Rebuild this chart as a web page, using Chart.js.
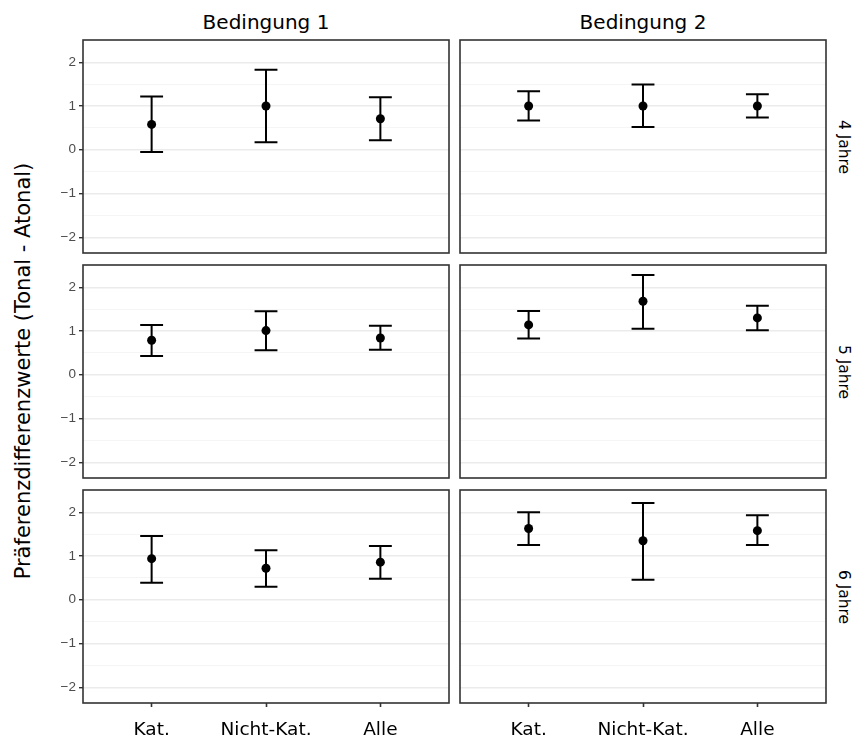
<!DOCTYPE html>
<html lang="de">
<head>
<meta charset="utf-8">
<title>Präferenzdifferenzwerte</title>
<script src="https://cdn.jsdelivr.net/npm/chart.js@4.4.1/dist/chart.umd.min.js"></script>
<style>
  body { margin: 0; background: #fff; }
  #wrap { position: relative; width: 852px; height: 740px; overflow: hidden; font-family: "DejaVu Sans", sans-serif; color: #000; }
  .panel { position: absolute; }
  .strip-top { position: absolute; top: 10px; font-size: 20px; text-align: center; width: 366px; line-height: 24px; }
  .strip-right { position: absolute; left: 844px; font-size: 15.5px; white-space: nowrap; transform: translate(-50%, -50%) rotate(90deg); }
  #ytitle { position: absolute; left: 23px; top: 371px; font-size: 21px; white-space: nowrap; transform: translate(-50%, -50%) rotate(-90deg); }
</style>
</head>
<body>
<div id="wrap">
  <div id="ytitle">Präferenzdifferenzwerte (Tonal - Atonal)</div>
</div>
<script>
// Kategorien, Facetten und Achsenbeschriftung
const categories = ['Kat.', 'Nicht-Kat.', 'Alle'];
const conditions = ['Bedingung 1', 'Bedingung 2'];
const ageGroups = ['4 Jahre', '5 Jahre', '6 Jahre'];
const yTicks = [-2, -1, 0, 1, 2];
const yGrid = [-2, -1.5, -1, -0.5, 0, 0.5, 1, 1.5, 2];

// 4 Jahre
const mean4B1 = [0.58, 1.00, 0.71];
const lower4B1 = [-0.05, 0.17, 0.22];
const upper4B1 = [1.22, 1.83, 1.20];
const mean4B2 = [1.00, 1.00, 1.00];
const lower4B2 = [0.67, 0.52, 0.74];
const upper4B2 = [1.34, 1.49, 1.27];

// 5 Jahre
const mean5B1 = [0.79, 1.01, 0.84];
const lower5B1 = [0.43, 0.56, 0.57];
const upper5B1 = [1.14, 1.45, 1.12];
const mean5B2 = [1.14, 1.68, 1.30];
const lower5B2 = [0.83, 1.05, 1.02];
const upper5B2 = [1.46, 2.28, 1.58];

// 6 Jahre
const mean6B1 = [0.94, 0.72, 0.86];
const lower6B1 = [0.39, 0.30, 0.48];
const upper6B1 = [1.46, 1.13, 1.23];
const mean6B2 = [1.63, 1.35, 1.58];
const lower6B2 = [1.25, 0.46, 1.25];
const upper6B2 = [2.00, 2.21, 1.93];

const panels = [
    [[mean4B1, lower4B1, upper4B1], [mean4B2, lower4B2, upper4B2]],
    [[mean5B1, lower5B1, upper5B1], [mean5B2, lower5B2, upper5B2]],
    [[mean6B1, lower6B1, upper6B1], [mean6B2, lower6B2, upper6B2]]
];

// Layout der Facetten (Pixel)
const panelTop = [40, 265, 490];
const panelH = 213;
const panelLeft = [83, 460];
const panelW = 366;
const yAxisW = 43;
const xAxisH = 40;

const isInt = (v) => Math.abs(v - Math.round(v)) < 1e-9;

// Fehlerbalken und Panelrahmen
const errorBarPlugin = {
    id: 'errorBars',
    beforeDatasetsDraw(chart) {
        const { ctx, scales: { x, y } } = chart;
        const lo = chart.config.options.plugins.errorBars.lower;
        const hi = chart.config.options.plugins.errorBars.upper;
        const capHalf = (x.getPixelForValue(1.1) - x.getPixelForValue(0.9)) / 2;
        ctx.save();
        ctx.strokeStyle = '#000';
        ctx.lineWidth = 2;
        ctx.lineCap = 'butt';
        lo.forEach((l, i) => {
            const px = x.getPixelForValue(i + 1);
            const yl = y.getPixelForValue(l);
            const yh = y.getPixelForValue(hi[i]);
            ctx.beginPath();
            ctx.moveTo(px, yl); ctx.lineTo(px, yh);
            ctx.moveTo(px - capHalf, yl); ctx.lineTo(px + capHalf, yl);
            ctx.moveTo(px - capHalf, yh); ctx.lineTo(px + capHalf, yh);
            ctx.stroke();
        });
        ctx.restore();
    },
    afterDraw(chart) {
        const { ctx, chartArea: a } = chart;
        ctx.save();
        ctx.strokeStyle = '#333';
        ctx.lineWidth = 1.6;
        ctx.strokeRect(a.left, a.top, a.right - a.left, a.bottom - a.top);
        ctx.restore();
    }
};

const wrap = document.getElementById('wrap');

conditions.forEach((c, col) => {
    const s = document.createElement('div');
    s.className = 'strip-top';
    s.style.left = panelLeft[col] + 'px';
    s.textContent = c;
    wrap.appendChild(s);
});

ageGroups.forEach((g, row) => {
    const s = document.createElement('div');
    s.className = 'strip-right';
    s.style.top = (panelTop[row] + panelH / 2) + 'px';
    s.textContent = g;
    wrap.appendChild(s);
});

panels.forEach((rowData, row) => {
    rowData.forEach(([mean, lower, upper], col) => {
        const isLeft = col === 0;
        const isBottom = row === 2;
        const cLeft = isLeft ? panelLeft[col] - yAxisW : panelLeft[col] - 2;
        const cWidth = (isLeft ? yAxisW : 2) + panelW + 2;
        const cTop = panelTop[row] - 2;
        const cHeight = 2 + panelH + (isBottom ? xAxisH : 2);

        const canvas = document.createElement('canvas');
        canvas.className = 'panel';
        canvas.style.left = cLeft + 'px';
        canvas.style.top = cTop + 'px';
        canvas.width = cWidth;
        canvas.height = cHeight;
        canvas.style.width = cWidth + 'px';
        canvas.style.height = cHeight + 'px';
        wrap.appendChild(canvas);

        new Chart(canvas, {
            type: 'scatter',
            data: {
                datasets: [{
                    data: mean.map((m, i) => ({ x: i + 1, y: m })),
                    backgroundColor: '#000',
                    borderWidth: 0,
                    pointRadius: 4.5
                }]
            },
            options: {
                responsive: false,
                animation: false,
                layout: {
                    autoPadding: false,
                    padding: { top: 2, right: 2, left: isLeft ? 0 : 2, bottom: isBottom ? 0 : 2 }
                },
                plugins: {
                    legend: { display: false },
                    tooltip: { enabled: false },
                    errorBars: { lower: lower, upper: upper }
                },
                scales: {
                    x: {
                        type: 'linear',
                        min: 0.4,
                        max: 3.6,
                        display: isBottom,
                        afterBuildTicks: (s) => { s.ticks = categories.map((_, i) => ({ value: i + 1 })); },
                        afterFit: (s) => {
                            s.height = isBottom ? xAxisH : 0;
                            s.paddingLeft = s.paddingRight = 0;
                        },
                        border: { display: false },
                        grid: {
                            drawOnChartArea: false,
                            drawTicks: true,
                            tickLength: 4,
                            tickColor: '#333',
                            tickWidth: 1.6
                        },
                        ticks: {
                            color: '#000',
                            padding: 12,
                            maxRotation: 0,
                            autoSkip: false,
                            font: { family: 'DejaVu Sans', size: 18.5 },
                            callback: (v) => categories[Math.round(v) - 1]
                        }
                    },
                    y: {
                        min: -2.36,
                        max: 2.51,
                        afterBuildTicks: (s) => { s.ticks = yGrid.map((v) => ({ value: v })); },
                        afterFit: (s) => {
                            s.width = isLeft ? yAxisW : 0;
                            s.paddingTop = s.paddingBottom = 0;
                        },
                        border: { display: false },
                        grid: {
                            color: (ctx) => isInt(ctx.tick.value) ? '#ebebeb' : '#f3f3f3',
                            lineWidth: (ctx) => isInt(ctx.tick.value) ? 1.4 : 0.8,
                            drawTicks: isLeft,
                            tickLength: 4,
                            tickColor: (ctx) => isInt(ctx.tick.value) ? '#333' : 'rgba(0,0,0,0)',
                            tickWidth: 1.4
                        },
                        ticks: {
                            display: isLeft,
                            color: '#4d4d4d',
                            padding: 3,
                            autoSkip: false,
                            font: { family: 'Liberation Sans', size: 13.5 },
                            callback: (v) => {
                                if (!yTicks.includes(v)) return '';
                                return v < 0 ? '\u2212' + Math.abs(v) : String(v);
                            }
                        }
                    }
                }
            },
            plugins: [errorBarPlugin]
        });
    });
});
</script>
</body>
</html>
